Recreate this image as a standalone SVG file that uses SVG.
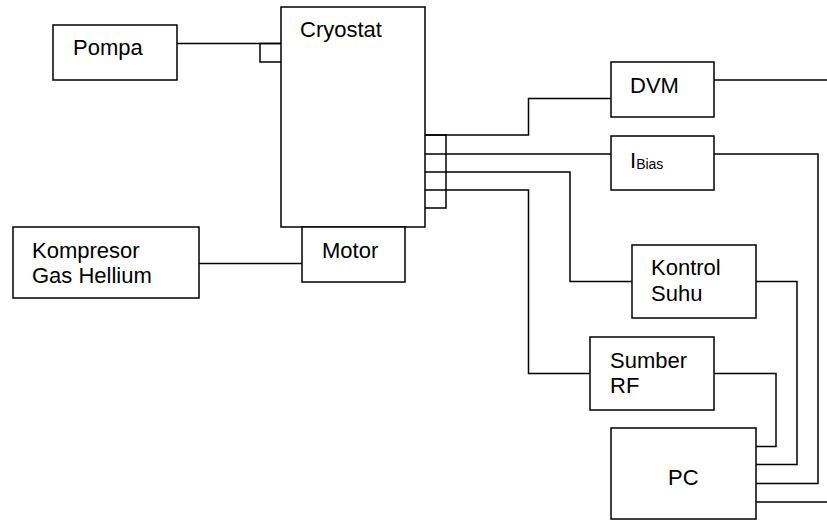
<svg xmlns="http://www.w3.org/2000/svg" width="827" height="521" viewBox="0 0 827 521">
<style>
.box{fill:#fff;stroke:#000;stroke-width:1.5}
.ln{fill:none;stroke:#000;stroke-width:1.5}
text{font-family:"Liberation Sans",Arial,sans-serif;font-size:22px;fill:#000}
.sub{font-size:14px}
</style>
<rect width="827" height="521" fill="#fff"/>
<g id="connectors">
<path class="ln" d="M177,43.5 H281"/>
<path class="ln" d="M281,43.5 H260 V62 H281"/>
<path class="ln" d="M199,263.5 H302"/>
<path class="ln" d="M425,135 H446 V208 H425 M425,154 H446 M425,172 H446 M425,190 H446"/>
<path class="ln" d="M425,135 H528.5 V98.5 H611"/>
<path class="ln" d="M446,154 H611"/>
<path class="ln" d="M446,172 H570 V281.5 H632"/>
<path class="ln" d="M446,190 H528.5 V373.5 H590"/>
<path class="ln" d="M714,80 H827"/>
<path class="ln" d="M714,154 H818 V483.5 H756"/>
<path class="ln" d="M756,281.5 H797 V464.5 H756"/>
<path class="ln" d="M714,373.5 H776 V446.5 H756"/>
<path class="ln" d="M756,502 H827"/>
</g>
<g id="pompa"><rect class="box" x="53" y="25" width="124" height="55"/><text x="73" y="55">Pompa</text></g>
<g id="cryostat"><rect class="box" x="281" y="7" width="144" height="220"/><text x="300" y="37">Cryostat</text></g>
<g id="motor"><rect class="box" x="302" y="227" width="103" height="55"/><text x="322" y="258">Motor</text></g>
<g id="kompresor"><rect class="box" x="13" y="227" width="186" height="71"/><text x="32" y="258">Kompresor</text><text x="32" y="283">Gas Hellium</text></g>
<g id="dvm"><rect class="box" x="611" y="62" width="103" height="55"/><text x="630" y="93">DVM</text></g>
<g id="ibias"><rect class="box" x="611" y="136" width="103" height="54"/><text x="630" y="168">I<tspan class="sub" dy="1">Bias</tspan></text></g>
<g id="kontrol"><rect class="box" x="632" y="245" width="124" height="73"/><text x="651" y="275">Kontrol</text><text x="651" y="301">Suhu</text></g>
<g id="sumber"><rect class="box" x="590" y="337" width="124" height="73"/><text x="610" y="368">Sumber</text><text x="610" y="393">RF</text></g>
<g id="pc"><rect class="box" x="611" y="428" width="145" height="91"/><text x="668" y="485">PC</text></g>
</svg>
